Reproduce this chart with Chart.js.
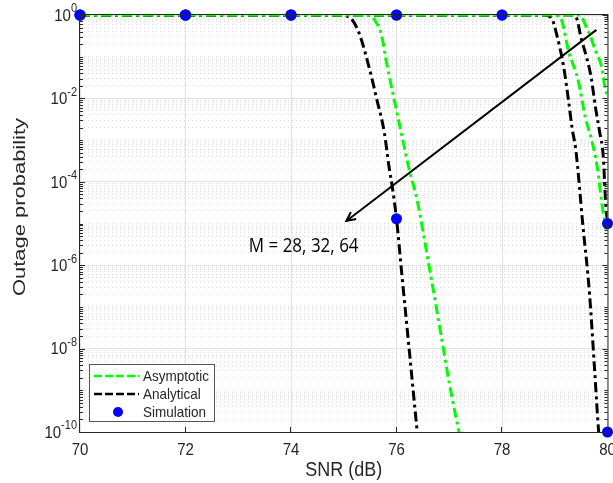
<!DOCTYPE html>
<html>
<head>
<meta charset="utf-8">
<script src="https://cdn.jsdelivr.net/npm/chart.js@4.4.1/dist/chart.umd.min.js"></script>
<style>
  html, body { margin: 0; padding: 0; background: #fff; }
  #wrap { width: 613px; height: 483px; }
</style>
</head>
<body>
<div id="wrap"><canvas id="c" width="613" height="483"></canvas></div>
<script>
// --- данные ---
const xTicks = [70, 72, 74, 76, 78, 80];
const yLabelExp = [0, -2, -4, -6, -8, -10];

// левая группа (M = 64)
const snrAna64 = [70, 74.95, 75.05, 75.15, 75.29, 75.48, 75.63, 75.77, 75.86, 75.92, 76.0, 76.1, 76.2, 76.3, 76.4];
const poAna64  = [1, 1, 0.95, 0.8, 0.37, 5.6e-2, 9.1e-3, 1.5e-3, 2.2e-4, 7.6e-5, 1.3e-5, 6.3e-7, 3.2e-8, 1.6e-9, 8e-11];
const snrAsy64 = [70, 75.45, 75.52, 75.6, 75.71, 75.82, 75.96, 76.1, 76.24, 76.39, 76.62, 76.84, 77.0, 77.2];
const poAsy64  = [1, 1, 0.93, 0.71, 0.35, 6.3e-2, 8.9e-3, 1.3e-3, 2.0e-4, 3.7e-5, 9.1e-7, 2.3e-8, 1.5e-9, 8e-11];

// средняя группа (M = 32)
const snrAna32 = [70, 78.8, 78.88, 78.95, 79.03, 79.17, 79.26, 79.33, 79.4, 79.53, 79.66, 79.75, 79.83, 79.86];
const poAna32  = [1, 1, 0.95, 0.8, 0.37, 5.6e-2, 9.1e-3, 1.9e-3, 5.8e-4, 1e-5, 2e-7, 4e-9, 1.1e-10, 4e-11];
const snrAsy32 = [70, 79.0, 79.06, 79.13, 79.26, 79.45, 79.58, 79.7, 79.8, 79.92, 80];
const poAsy32  = [1, 1, 0.95, 0.76, 0.14, 2.5e-2, 3.5e-3, 1e-3, 2.5e-4, 1.8e-5, 7e-6];

// правая группа (M = 28)
const snrAna28 = [70, 79.3, 79.36, 79.42, 79.5, 79.6, 79.69, 79.77, 79.85, 79.92, 79.96, 80];
const poAna28  = [1, 1, 0.95, 0.8, 0.28, 0.1, 3.2e-2, 6.3e-3, 1.6e-3, 4e-4, 4e-5, 1e-5];
const snrAsy28 = [70, 79.45, 79.51, 79.58, 79.68, 79.77, 79.89, 79.96, 80];
const poAsy28  = [1, 1, 0.9, 0.58, 0.3, 0.14, 5.6e-2, 1.6e-2, 1.2e-2];

// симуляция
const snrSim  = [70, 72, 74, 76, 78, 80];
const poSim64 = [1, 1, 1, 1.3e-5, null, null];
const poSim32 = [1, 1, 1, 1, 1, 1e-10];
const poSim28 = [1, 1, 1, 1, 1, 1e-5];

// стрелка и подпись (в координатах данных)
const arrowFrom = { x: 79.79, y: 0.44 };
const arrowTo   = { x: 75.05, y: 1.15e-5 };
const noteText  = "M = 28, 32, 64";
const notePos   = { x: 73.2, y: 2.75e-6 };

const GREEN = "#00ff00", BLACK = "#000000", BLUE = "#0000ff", AXIS = "#262626";
const DASH = [10, 4, 3, 4];
const FONT = '"Liberation Sans", Arial, sans-serif';
const SY = 1.15; // картинка слегка вытянута по вертикали

const pts = (xs, ys) => xs.map((x, i) => ({ x, y: ys[i] }));

function curve(label, xs, ys, color) {
  return {
    label, data: pts(xs, ys), borderColor: color, backgroundColor: color,
    borderWidth: 3, borderDash: DASH, pointRadius: 0, showLine: true,
    cubicInterpolationMode: "monotone", order: 2
  };
}
function sim(ys) {
  return {
    label: "Simulation", data: pts(snrSim, ys), showLine: false,
    pointRadius: 5.5, pointBackgroundColor: BLUE, pointBorderWidth: 0,
    clip: false, order: 0
  };
}

// текст с вертикальным растяжением
function text(ctx, s, x, y, font, align) {
  ctx.save();
  ctx.font = font; ctx.textAlign = align; ctx.textBaseline = "middle";
  ctx.translate(x, y); ctx.scale(1, SY);
  ctx.fillText(s, 0, 0);
  ctx.restore();
}

// лог-тики: все 1..9 × 10^k
const logTicks = [];
for (let k = -10; k < 0; k++) for (let m = 1; m <= 9; m++) logTicks.push(m * Math.pow(10, k));
logTicks.push(1);
const expOf = v => Math.log10(v);
const isDecade = v => Math.abs(expOf(v) - Math.round(expOf(v))) < 1e-9;
const isLabeled = v => isDecade(v) && Math.round(expOf(v)) % 2 === 0;

const deco = {
  id: "deco",
  afterDatasetsDraw(chart) {
    const { ctx, scales: { x, y } } = chart;
    // стрелка
    const x0 = x.getPixelForValue(arrowFrom.x), y0 = y.getPixelForValue(arrowFrom.y);
    const x1 = x.getPixelForValue(arrowTo.x), y1 = y.getPixelForValue(arrowTo.y);
    ctx.save();
    ctx.strokeStyle = "#000"; ctx.lineWidth = 2;
    ctx.beginPath(); ctx.moveTo(x0, y0); ctx.lineTo(x1, y1); ctx.stroke();
    const ang = Math.atan2(y1 - y0, x1 - x0), hl = 10;
    ctx.beginPath();
    ctx.moveTo(x1 - hl * Math.cos(ang - 0.45), y1 - hl * Math.sin(ang - 0.45));
    ctx.lineTo(x1, y1);
    ctx.lineTo(x1 - hl * Math.cos(ang + 0.45), y1 - hl * Math.sin(ang + 0.45));
    ctx.stroke();
    ctx.fillStyle = "#000";
    text(ctx, noteText, x.getPixelForValue(notePos.x), y.getPixelForValue(notePos.y),
         '17px "Open Sans", sans-serif', "left");
    ctx.restore();
  },
  afterDraw(chart) {
    const { ctx, chartArea: a, scales: { x, y } } = chart;
    ctx.save();
    ctx.strokeStyle = AXIS; ctx.lineWidth = 1;
    ctx.strokeRect(a.left - 0.5, a.top - 0.5, a.right - a.left + 1, a.bottom - a.top + 1);
    // тики внутрь
    ctx.beginPath();
    xTicks.forEach(v => {
      const px = Math.round(x.getPixelForValue(v)) - 0.5;
      ctx.moveTo(px, a.bottom); ctx.lineTo(px, a.bottom - 5);
      ctx.moveTo(px, a.top); ctx.lineTo(px, a.top + 5);
    });
    logTicks.forEach(v => {
      const py = Math.round(y.getPixelForValue(v)) + 0.5;
      const len = isLabeled(v) ? 5 : 3;
      ctx.moveTo(a.left, py); ctx.lineTo(a.left + len, py);
      ctx.moveTo(a.right, py); ctx.lineTo(a.right - len, py);
    });
    ctx.stroke();

    // подписи оси X
    ctx.fillStyle = AXIS;
    xTicks.forEach(v => text(ctx, String(v), x.getPixelForValue(v), a.bottom + 18, "15px " + FONT, "center"));

    // подписи оси Y: 10^k
    yLabelExp.forEach(k => {
      const py = y.getPixelForValue(Math.pow(10, k));
      const ex = String(k);
      ctx.font = "11px " + FONT;
      const ew = ctx.measureText(ex).width;
      const right = a.left - 3;
      text(ctx, ex, right - ew, py - 6, "11px " + FONT, "left");
      text(ctx, "10", right - ew, py + 1, "15px " + FONT, "right");
    });

    // названия осей
    text(ctx, "SNR (dB)", (a.left + a.right) / 2, 470, "18px " + FONT, "center");
    ctx.save();
    ctx.translate(20, 207);
    ctx.rotate(-Math.PI / 2);
    ctx.font = "17px " + FONT; ctx.textAlign = "center"; ctx.textBaseline = "middle";
    const tw = ctx.measureText("Outage probability").width;
    ctx.scale(178 / tw, 1);
    ctx.fillText("Outage probability", 0, 0);
    ctx.restore();

    // легенда
    const lx = a.left + 9, ly = a.bottom - 68, lw = 126, lh = 58;
    ctx.fillStyle = "#fff"; ctx.fillRect(lx, ly, lw, lh);
    ctx.strokeStyle = "#555"; ctx.lineWidth = 1;
    ctx.strokeRect(lx + 0.5, ly + 0.5, lw - 1, lh - 1);
    const rows = [
      { t: "Asymptotic", c: GREEN, line: true },
      { t: "Analytical", c: BLACK, line: true },
      { t: "Simulation", c: BLUE, line: false }
    ];
    rows.forEach((r, i) => {
      const ry = ly + 12 + i * 18;
      if (r.line) {
        ctx.save();
        ctx.strokeStyle = r.c; ctx.lineWidth = 2.5; ctx.setLineDash([8, 3]);
        ctx.beginPath(); ctx.moveTo(lx + 5, ry); ctx.lineTo(lx + 50, ry); ctx.stroke();
        ctx.restore();
      } else {
        ctx.fillStyle = r.c;
        ctx.beginPath(); ctx.arc(lx + 29, ry, 5, 0, Math.PI * 2); ctx.fill();
      }
      ctx.fillStyle = AXIS;
      text(ctx, r.t, lx + 54, ry + 1, "13.5px " + FONT, "left");
    });
    ctx.restore();
  }
};

new Chart(document.getElementById("c").getContext("2d"), {
  type: "scatter",
  data: {
    datasets: [
      sim(poSim64), sim(poSim32), sim(poSim28),
      curve("Asymptotic", snrAsy64, poAsy64, GREEN),
      curve("Analytical", snrAna64, poAna64, BLACK),
      curve("Asymptotic", snrAsy32, poAsy32, GREEN),
      curve("Analytical", snrAna32, poAna32, BLACK),
      curve("Asymptotic", snrAsy28, poAsy28, GREEN),
      curve("Analytical", snrAna28, poAna28, BLACK)
    ]
  },
  options: {
    responsive: false,
    animation: false,
    devicePixelRatio: 1,
    layout: { padding: { top: 15, right: 4, left: 0, bottom: 0 } },
    plugins: { legend: { display: false }, tooltip: { enabled: false } },
    scales: {
      x: {
        type: "linear", min: 70, max: 80,
        ticks: { display: false, stepSize: 2 },
        grid: { color: "#e3e3e3", lineWidth: 1, drawTicks: false },
        border: { display: false },
        afterFit: s => { s.height = 51; }
      },
      y: {
        type: "logarithmic", min: 1e-10, max: 1,
        afterBuildTicks: s => { s.ticks = logTicks.map(v => ({ value: v })); },
        ticks: { display: false, autoSkip: false },
        grid: {
          drawTicks: false,
          color: c => (c.tick && isLabeled(c.tick.value)) ? "#e3e3e3" : "#dcdcdc",
          lineWidth: 1
        },
        border: {
          display: false,
          dash: c => (c.tick && isLabeled(c.tick.value)) ? [] : [1, 3]
        },
        afterFit: s => { s.width = 80; }
      }
    }
  },
  plugins: [deco]
});
</script>
</body>
</html>
